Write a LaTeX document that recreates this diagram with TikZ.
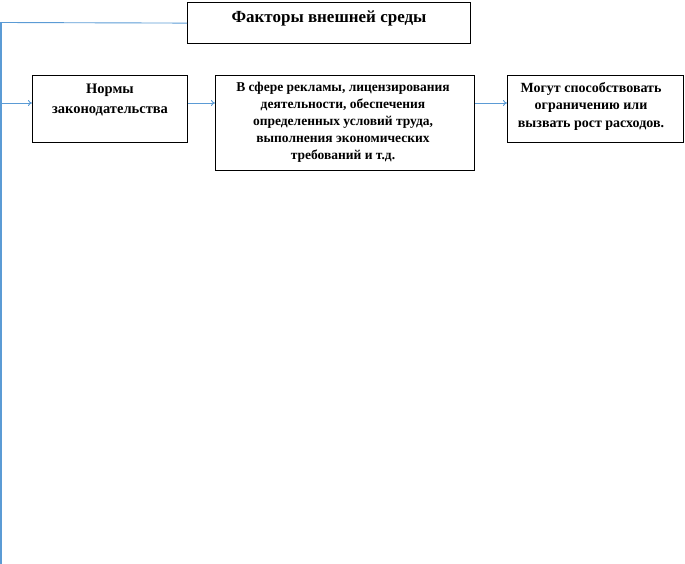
\documentclass[tikz,border=0pt]{standalone}
\usepackage{fontspec}
\setmainfont{Liberation Serif}
\usetikzlibrary{arrows.meta}
\definecolor{lineblue}{HTML}{5B9BD5}
\begin{document}
\begin{tikzpicture}[x=1pt,y=-1pt,
  box/.style={draw=black,line width=1.2pt,rectangle,anchor=north west,inner sep=0pt},
  txt/.style={font=\bfseries\fontsize{13.5}{17}\selectfont,align=center,inner sep=0pt},
  conn/.style={draw=lineblue,line width=0.9pt},
  arr/.style={conn,-{To[length=4pt,width=6pt]}}]
\useasboundingbox (0,0) rectangle (685,564);
% boxes
\node[box,minimum width=283pt,minimum height=41pt] (top) at (187,2) {};
\node[txt,font=\bfseries\fontsize{17}{20}\selectfont] (toptxt) at (329,18) {Факторы внешней среды};
\node[box,minimum width=155pt,minimum height=67pt] (norm) at (32,75) {};
\node[txt,font=\bfseries\fontsize{14.5}{20}\selectfont] (normtxt) at (110,100) {Нормы\\законодательства};
\node[box,minimum width=259pt,minimum height=95pt] (mid) at (215,75) {};
\node[txt] (midtxt) at (343,122) {В сфере рекламы, лицензирования\\деятельности, обеспечения\\определенных условий труда,\\выполнения экономических\\требований и т.д.};
\node[box,minimum width=176pt,minimum height=67pt] (res) at (507,75) {};
\node[txt,font=\bfseries\fontsize{14}{17.5}\selectfont] (restxt) at (591,106) {Могут способствовать\\ограничению или\\вызвать рост расходов.};
% connectors
\coordinate (c1) at (1,22.5);
\coordinate (c2) at (1,564);
\coordinate (c3) at (1,103);
\draw[conn] (top.west) -- (c1);
\draw[conn,line width=1.6pt] (c1) -- (c2);
\draw[arr] (c3) -- (norm.west |- c3);
\draw[arr] (norm.east |- c3) -- (mid.west |- c3);
\draw[arr] (mid.east |- c3) -- (res.west |- c3);
\end{tikzpicture}
\end{document}
